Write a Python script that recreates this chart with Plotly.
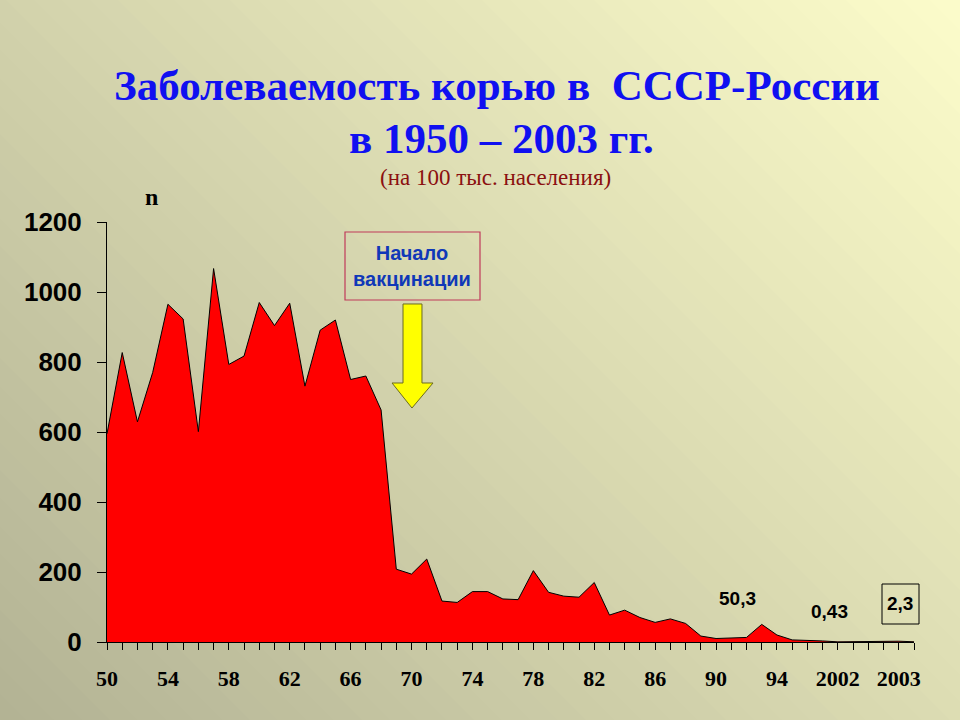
import plotly.graph_objects as go

# Measles incidence per 100k, USSR-Russia 1950-2003
years = list(range(1950, 2004))
incidence = [595, 827, 629, 770, 965, 923, 601, 1067, 793, 817,
             970, 904, 968, 731, 891, 920, 750, 760, 663, 208,
             194, 237, 117, 113, 144, 144, 123, 121, 204, 142,
             131, 128, 170, 77, 91, 70, 56, 66, 53, 17,
             10, 12, 13, 50.3, 20, 6, 5, 3, 0.43, 1.0,
             1.2, 0.8, 2.3, 0.6]

# tick labels as printed on the slide
label_years = [1950, 1954, 1958, 1962, 1966, 1970, 1974, 1978, 1982,
               1986, 1990, 1994, 1998, 2002]
label_text = ['50', '54', '58', '62', '66', '70', '74', '78', '82',
              '86', '90', '94', '2002', '2003']

W, H = 960, 720
L, R, T, B = 107, 46, 222, 78


def px(x):
    '''pixel x -> paper x'''
    return (x - L) / (W - L - R)


def py(y):
    '''pixel y -> paper y'''
    return (H - B - y) / (H - T - B)


def poly(points):
    return 'M ' + ' L '.join('%.4f,%.4f' % (px(x), py(y))
                             for x, y in points) + ' Z'


tick_text = []
for yr in years:
    if yr in label_years:
        tick_text.append(label_text[label_years.index(yr)])
    else:
        tick_text.append('')

fig = go.Figure()
fig.add_trace(go.Scatter(x=years, y=incidence, mode='lines',
                         fill='tozeroy', fillcolor='#ff0000',
                         line=dict(color='black', width=1),
                         hoverinfo='x+y', showlegend=False))

# diagonal background gradient, bottom-left dark -> top-right light
shapes = []
n_bands = 60
c0 = (178, 178, 148)
c1 = (252, 252, 202)
span = W + H
for k in range(n_bands):
    s0 = span * k / n_bands - 2
    s1 = span * (k + 1) / n_bands + 2
    t = (k + 0.5) / n_bands
    col = 'rgb(%d,%d,%d)' % tuple(round(a + (b - a) * t) for a, b in zip(c0, c1))
    # band between lines x + (H - y) = s0 and = s1
    pts = [(s - H + yy, yy) for s, yy in
           [(s0, -100), (s1, -100), (s1, H + 100), (s0, H + 100)]]
    shapes.append(dict(type='path', path=poly(pts), xref='paper', yref='paper',
                       fillcolor=col, line=dict(width=0), layer='below'))

# "Начало вакцинации" box
shapes.append(dict(type='rect', xref='paper', yref='paper',
                   x0=px(345), x1=px(480), y0=py(232), y1=py(300),
                   line=dict(color='#c03a5a', width=1.2)))
# yellow arrow
arrow = [(403, 304), (422, 304), (422, 383), (433, 383), (412, 408),
         (392, 383), (403, 383)]
shapes.append(dict(type='path', xref='paper', yref='paper', path=poly(arrow),
                   fillcolor='#ffff00', line=dict(color='#6b6b20', width=1)))
# box around 2,3
shapes.append(dict(type='rect', xref='paper', yref='paper',
                   x0=px(882), x1=px(919), y0=py(584), y1=py(624),
                   line=dict(color='black', width=1)))

serif = 'Liberation Serif, Times New Roman, serif'
sans = 'Liberation Sans, Arial, sans-serif'

annotations = [
    dict(text='<b>Заболеваемость корью в  СССР-России</b>', x=px(497), y=py(85),
         font=dict(family=serif, size=43, color='#1010f0')),
    dict(text='<b>в 1950 – 2003 гг.</b>', x=px(501), y=py(138),
         font=dict(family=serif, size=43, color='#1010f0')),
    dict(text='(на 100 тыс. населения)', x=px(495), y=py(178),
         font=dict(family=serif, size=23, color='#8b1010')),
    dict(text='<b>n</b>', x=px(151), y=py(197),
         font=dict(family=serif, size=24, color='black')),
    dict(text='<b>Начало<br>вакцинации</b>', x=px(412), y=py(266),
         font=dict(family=sans, size=20, color='#1038b8')),
    dict(text='<b>50,3</b>', x=px(737), y=py(598),
         font=dict(family=sans, size=19, color='black')),
    dict(text='<b>0,43</b>', x=px(829), y=py(611),
         font=dict(family=sans, size=19, color='black')),
    dict(text='<b>2,3</b>', x=px(900), y=py(603),
         font=dict(family=sans, size=19, color='black')),
]
for a in annotations:
    a.update(xref='paper', yref='paper', showarrow=False,
             xanchor='center', yanchor='middle')

fig.update_layout(width=W, height=H,
                  margin=dict(l=L, r=R, t=T, b=B),
                  paper_bgcolor='#d8d8b0', plot_bgcolor='rgba(0,0,0,0)',
                  shapes=shapes, annotations=annotations)
fig.update_xaxes(range=[1950, 2003], tickmode='array',
                 tickvals=years, ticktext=tick_text,
                 ticks='outside', ticklen=7, tickcolor='black',
                 showline=True, linecolor='black', linewidth=1,
                 showgrid=False, zeroline=False, ticklabelstandoff=10,
                 tickfont=dict(family=serif, size=22, color='black',
                               weight='bold'))
fig.update_yaxes(range=[0, 1200], dtick=200, tickformat='d',
                 ticks='outside', ticklen=9, tickcolor='black',
                 showline=True, linecolor='black', linewidth=1,
                 showgrid=False, zeroline=False, ticklabelstandoff=10,
                 tickfont=dict(family=sans, size=26, color='black',
                               weight='bold'))

# drop the default 8px page margin so the figure sits at the window origin
fig.write_html('out.html', config={'displayModeBar': False},
               post_script="document.body.style.margin='0';")
